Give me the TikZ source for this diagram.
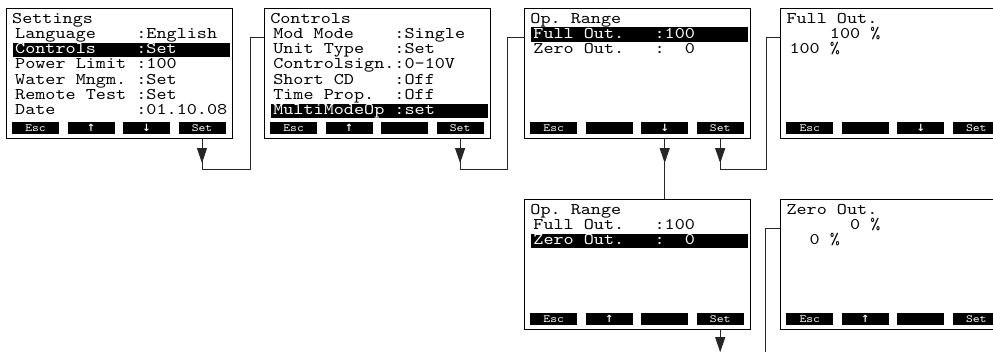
\documentclass[tikz,border=0pt]{standalone}
\usepackage{fontspec}
\newfontfamily\lcdfont[FakeStretch=1.18]{lmmono10-regular.otf}
\newfontfamily\arrowfont{DejaVu Sans}
\usetikzlibrary{positioning,calc,arrows.meta}
\tikzset{
  screen/.style={draw, line width=1.1pt, minimum width=226pt, minimum height=130pt, inner sep=0pt},
  row/.style={anchor=base west, inner sep=0pt, font=\fontsize{16.3}{16}\lcdfont},
  key/.style={fill=black, text=white, minimum width=47pt, minimum height=12pt, inner sep=0pt, font=\fontsize{11}{11}\lcdfont},
  wire/.style={line width=0.9pt, black!85},
}
\newcommand\hl[1]{\textcolor{white}{#1}}
\newcommand\up{{\arrowfont\bfseries\fontsize{10}{10}\selectfont ↑}}
\newcommand\dn{{\arrowfont\bfseries\fontsize{10}{10}\selectfont ↓}}
\begin{document}
\begin{tikzpicture}[x=1pt, y=-1pt, >={Triangle[width=10pt,length=15pt]}]
\useasboundingbox (0,0) rectangle (993,351);
\clip (0,0) rectangle (993,351);
% Settings
\node[screen, anchor=north west] (s1) at (6,8) {};
\fill ($(s1.north west)+(7,34.6)$) rectangle +(217,14.5);
\node[row] (s1t) at ($(s1.north west)+(6,15)$) {Settings};
\foreach \t [count=\i] in {Language~~~~:English, \hl{Controls~~~~:Set}, Power~Limit~:100, Water~Mngm.~:Set, Remote~Test~:Set, Date~~~~~~~~:01.10.08}
  \node[row] (s1r\i) at ($(s1.north west)+(9,15+15.3*\i)$) {\t};
\foreach \k [count=\j] in {Esc,\up,\dn,Set}
  \node[key] (s1k\j) at ($(s1.north west)+(-26+55.5*\j,120)$) {\k};
% Controls
\node[screen, right=31pt of s1] (s2) {};
\fill ($(s2.north west)+(7,95.8)$) rectangle +(217,14.5);
\node[row] (s2t) at ($(s2.north west)+(6,15)$) {Controls};
\foreach \t [count=\i] in {Mod~Mode~~~~:Single, Unit~Type~~~:Set, Controlsign.:0–10V, Short~CD~~~~:Off, Time~Prop.~~:Off, \hl{MultiModeOp~:set}}
  \node[row] (s2r\i) at ($(s2.north west)+(9,15+15.3*\i)$) {\t};
\foreach \k [count=\j] in {Esc,\up,{},Set}
  \node[key] (s2k\j) at ($(s2.north west)+(-26+55.5*\j,120)$) {\k};
% Op. Range, Full Out.
\node[screen, right=33pt of s2] (s3) {};
\fill ($(s3.north west)+(7,19.3)$) rectangle +(217,14.5);
\node[row] (s3t) at ($(s3.north west)+(6,15)$) {Op.~Range};
\foreach \t [count=\i] in {\hl{Full~Out.~~~:100}, Zero~Out.~~~:~~0}
  \node[row] (s3r\i) at ($(s3.north west)+(9,15+15.3*\i)$) {\t};
\foreach \k [count=\j] in {Esc,{},\dn,Set}
  \node[key] (s3k\j) at ($(s3.north west)+(-26+55.5*\j,120)$) {\k};
% Full Out. value
\node[screen, right=29pt of s3] (s4) {};
\node[row] (s4t) at ($(s4.north west)+(6,15)$) {Full~Out.};
\foreach \t [count=\i] in {~~~~100~\%, 100~\%}
  \node[row] (s4r\i) at ($(s4.north west)+(9,15+15.3*\i)$) {\t};
\foreach \k [count=\j] in {Esc,{},\dn,Set}
  \node[key] (s4k\j) at ($(s4.north west)+(-26+55.5*\j,120)$) {\k};
% Op. Range, Zero Out.
\node[screen, below=60pt of s3] (s5) {};
\fill ($(s5.north west)+(7,34.6)$) rectangle +(217,14.5);
\node[row] (s5t) at ($(s5.north west)+(6,15)$) {Op.~Range};
\foreach \t [count=\i] in {Full~Out.~~~:100, \hl{Zero~Out.~~~:~~0}}
  \node[row] (s5r\i) at ($(s5.north west)+(9,15+15.3*\i)$) {\t};
\foreach \k [count=\j] in {Esc,\up,{},Set}
  \node[key] (s5k\j) at ($(s5.north west)+(-26+55.5*\j,120)$) {\k};
% Zero Out. value
\node[screen, below=60pt of s4] (s6) {};
\node[row] (s6t) at ($(s6.north west)+(6,15)$) {Zero~Out.};
\foreach \t [count=\i] in {~~~~~~0~\%, ~~0~\%}
  \node[row] (s6r\i) at ($(s6.north west)+(9,15+15.3*\i)$) {\t};
\foreach \k [count=\j] in {Esc,\up,{},Set}
  \node[key] (s6k\j) at ($(s6.north west)+(-26+55.5*\j,120)$) {\k};
% connectors
\coordinate (s2in) at ($(s2.north west)+(0,29)$);
\coordinate (s3in) at ($(s3.north west)+(0,29)$);
\coordinate (s4in) at ($(s4.north west)+(0,29)$);
\coordinate (s6in) at ($(s6.north west)+(0,29)$);
\draw[wire,->] (s1k4 |- s1.south) -- ++(0,24);
\draw[wire] (s1k4 |- s1.south) -- ++(0,30) -| ($(s2in)+(-14,0)$) -- (s2in);
\draw[wire,->] (s2k4 |- s2.south) -- ++(0,24);
\draw[wire] (s2k4 |- s2.south) -- ++(0,30) -| ($(s3in)+(-17,0)$) -- (s3in);
\draw[wire,->] (s3k3 |- s3.south) -- ++(0,24);
\draw[wire] (s3k3 |- s3.south) -- (s3k3 |- s5.north);
\draw[wire,->] (s3k4 |- s3.south) -- ++(0,24);
\draw[wire] (s3k4 |- s3.south) -- ++(0,30) -| ($(s4in)+(-14,0)$) -- (s4in);
\draw[wire,->] (s5k4 |- s5.south) -- ++(0,22);
\draw[wire] (s6in) -- ++(-15,0) -- ++(0,130);
\end{tikzpicture}
\end{document}
